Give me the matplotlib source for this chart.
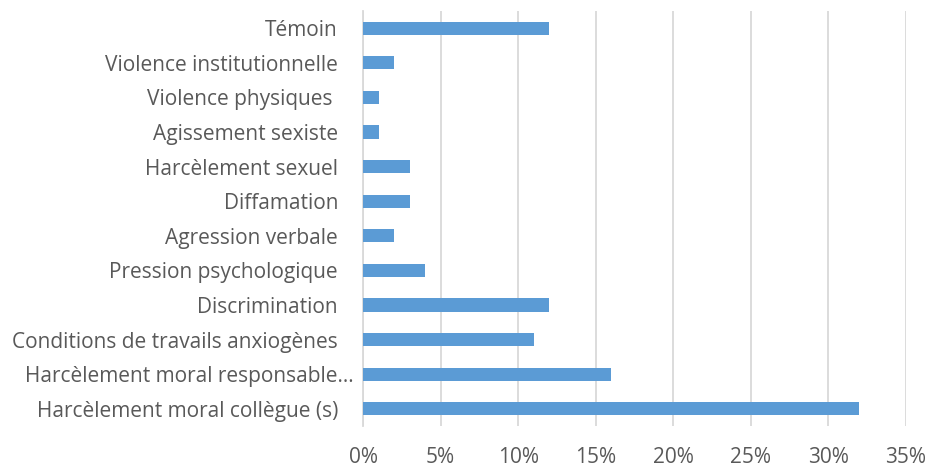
import matplotlib
matplotlib.use("Agg")
import matplotlib.pyplot as plt
from matplotlib.ticker import FuncFormatter, MultipleLocator
from matplotlib.transforms import ScaledTranslation

# categories bottom to top
categories = [
    "Harcèlement moral collègue (s)",
    "Harcèlement moral responsable…",
    "Conditions de travails anxiogènes",
    "Discrimination",
    "Pression psychologique",
    "Agression verbale",
    "Diffamation",
    "Harcèlement sexuel",
    "Agissement sexiste",
    "Violence physiques ",
    "Violence institutionnelle",
    "Témoin",
]
values = [32, 16, 11, 12, 4, 2, 3, 3, 1, 1, 2, 12]

plt.rcParams["font.family"] = ["Open Sans", "DejaVu Sans"]
text_color = "#595959"

fig = plt.figure(figsize=(9.32, 4.67), dpi=100)
ax = fig.add_axes([363 / 932, 1 - 426 / 467, (906 - 363) / 932, (426 - 11) / 467])

pos = range(len(categories))
ax.barh(pos, values, height=0.38, color="#5B9BD5", zorder=3)

ax.set_xlim(0, 35)
ax.set_ylim(-0.5, len(categories) - 0.5)
ax.xaxis.set_major_locator(MultipleLocator(5))
ax.xaxis.set_major_formatter(FuncFormatter(lambda v, p: "{:.0f}%".format(v)))
ax.set_yticks(list(pos))
ax.set_yticklabels(categories)

ax.grid(axis="x", color="#D9D9D9", linewidth=1.3, zorder=0)
for s in ["top", "right", "bottom"]:
    ax.spines[s].set_visible(False)
ax.spines["left"].set_color("#D9D9D9")
ax.spines["left"].set_linewidth(1.3)

ax.tick_params(axis="both", length=0, labelsize=15, colors=text_color)
ax.tick_params(axis="x", pad=15)
ax.tick_params(axis="y", pad=18)

# the truncated label sits closer to the axis, as in excel
lab = ax.get_yticklabels()[1]
lab.set_transform(lab.get_transform() + ScaledTranslation(16 / 100, 0, fig.dpi_scale_trans))

plt.savefig("out.png", dpi=100)
